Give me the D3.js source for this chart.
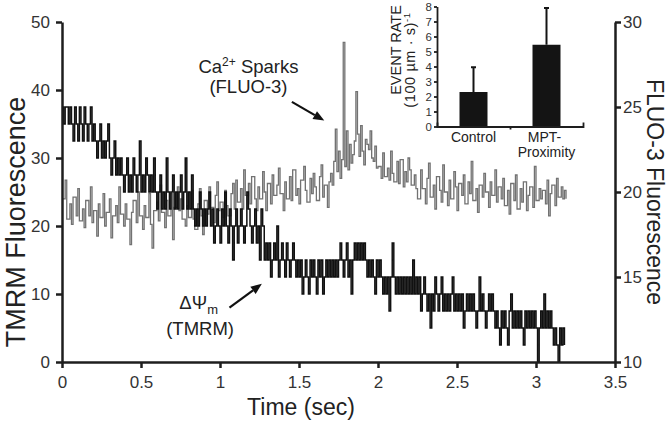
<!DOCTYPE html>
<html><head><meta charset="utf-8">
<script src="https://cdn.jsdelivr.net/npm/d3@7"></script>
<style>
body{margin:0;background:#fff}
text{font-family:"Liberation Sans",Arial,Helvetica,sans-serif}
</style>
</head><body>
<svg id="chart" width="671" height="422"></svg>
<script>
// ---------- data ----------
const sampleInterval = 0.01; // seconds between samples
const tmrmValues = [
  37.5,35,37.5,37.5,35,37.5,35,32.5,37.5,35,
  32.5,37.5,35,32.5,37.5,35,32.5,35,37.5,32.5,
  35,32.5,30,32.5,35,30,32.5,30,32.5,35,
  30,27.5,30,32.5,27.5,30,27.5,30,27.5,25,
  27.5,30,25,27.5,25,30,27.5,25,27.5,32.5,
  25,27.5,25,30,27.5,25,27.5,25,30,25,
  22.5,25,27.5,22.5,25,22.5,30,25,22.5,25,
  27.5,22.5,25,22.5,25,27.5,22.5,25,30,22.5,
  25,22.5,27.5,22.5,20,22.5,20,25,22.5,20,
  22.5,20,22.5,25,20,22.5,17.5,20,22.5,20,
  17.5,22.5,20,25,20,17.5,22.5,20,15,20,
  22.5,17.5,20,22.5,20,17.5,20,25,22.5,20,
  17.5,20,22.5,17.5,20,15,22.5,20,15,17.5,
  15,17.5,12.5,15,17.5,15,20,12.5,15,17.5,
  15,12.5,17.5,15,12.5,15,17.5,15,12.5,15,
  12.5,15,10,12.5,15,12.5,10,15,12.5,15,
  12.5,10,15,12.5,15,10,12.5,15,12.5,15,
  12.5,15,12.5,15,12.5,15,17.5,15,12.5,15,
  17.5,12.5,15,10,15,17.5,15,17.5,15,17.5,
  15,17.5,15,12.5,15,12.5,15,12.5,10,15,
  12.5,15,12.5,10,12.5,10,12.5,7.5,12.5,17.5,
  12.5,10,12.5,10,12.5,10,12.5,10,12.5,10,
  12.5,10,15,10,12.5,10,12.5,7.5,10,12.5,
  10,7.5,10,5,10,7.5,12.5,10,7.5,10,
  12.5,7.5,10,7.5,10,7.5,10,12.5,7.5,10,
  7.5,10,7.5,10,5,7.5,10,7.5,10,7.5,
  10,7.5,5,7.5,12.5,7.5,10,7.5,5,7.5,
  10,7.5,10,7.5,5,7.5,5,2.5,7.5,5,
  7.5,5,2.5,7.5,10,5,7.5,5,7.5,5,
  7.5,5,2.5,7.5,5,7.5,5,7.5,5,7.5,
  5,0,5,7.5,5,10,5,7.5,5,7.5,
  5,2.5,5,2.5,0,5,2.5,5,2.5
];
const fluoValues = [
  19.6,19.6,20.7,18.4,18.4,19.3,18.1,19.7,19.7,18.6,
  20.2,18.3,18.3,19.0,17.9,19.5,19.5,18.6,20.3,18.2,
  18.9,18.9,17.4,19.3,18.5,18.5,19.9,18.0,18.8,18.8,
  19.6,17.3,18.6,18.6,19.2,18.2,20.3,18.7,18.7,18.0,
  19.3,18.4,18.4,16.9,18.8,19.5,19.5,18.2,20.0,18.6,
  18.6,17.8,19.2,18.5,18.5,19.9,18.1,16.7,18.9,18.9,
  19.4,18.3,20.4,18.8,18.8,17.9,19.5,18.6,18.6,19.9,
  17.2,19.1,19.1,20.3,18.9,19.6,18.4,18.4,18.0,19.2,
  18.5,18.5,20.1,18.4,17.8,17.8,19.3,20.2,18.6,17.5,
  19.5,19.5,18.7,20.3,19.1,19.1,18.2,19.8,20.6,18.9,
  19.4,19.4,18.5,20.1,19.2,18.6,18.6,19.9,20.5,19.0,
  20.7,19.4,19.4,20.2,19.0,21.3,19.8,19.8,20.5,19.3,
  20.9,20.9,19.6,18.9,20.3,19.6,19.6,21.2,20.0,18.9,
  20.5,20.5,19.3,21.0,19.8,19.8,20.4,21.4,19.9,19.9,
  18.9,20.6,19.6,19.6,20.9,19.5,21.3,21.3,19.8,20.2,
  19.3,20.7,20.7,21.5,20.1,19.4,19.4,20.8,19.9,21.1,
  20.3,19.5,19.5,20.9,21.6,19.7,20.4,20.4,19.1,20.6,
  21.1,20.4,21.8,23.7,21.2,22.4,20.8,21.9,28.8,21.5,
  23.6,21.3,22.8,21.7,22.2,23.0,25.9,23.4,22.1,23.9,
  22.4,21.6,23.1,22.8,22.5,23.6,22.0,21.8,22.7,21.4,
  21.5,21.5,20.8,22.3,20.9,20.9,21.4,20.7,22.4,21.1,
  20.6,20.6,21.8,20.5,21.9,21.9,20.3,21.2,20.6,22.0,
  21.3,20.4,20.4,21.0,20.2,19.6,19.6,21.3,20.2,20.2,
  19.3,20.8,21.7,19.7,19.7,20.4,19.0,20.9,20.9,20.1,
  19.4,21.6,20.0,20.0,19.2,20.7,19.6,19.6,21.2,20.3,
  18.9,20.5,20.5,19.8,21.0,19.3,19.3,20.6,19.9,21.8,
  19.5,19.5,20.2,18.8,20.4,20.4,19.7,21.1,20.0,20.0,
  19.1,20.6,19.8,19.8,21.3,19.4,20.3,20.3,19.6,20.8,
  19.2,19.2,20.1,18.7,20.5,20.5,19.5,21.0,19.0,19.0,
  20.2,19.4,20.6,20.6,18.9,19.8,20.3,20.3,19.1,21.5,
  19.5,19.5,20.2,19.6,20.1,20.1,19.3,20.7,18.6,19.9,
  20.4,20.4,19.2,20.8,19.7,19.7,20.3,19.6,20.1,19.6
];
const xTicks = [0, 0.5, 1, 1.5, 2, 2.5, 3, 3.5];
const leftTicks = [0, 10, 20, 30, 40, 50];
const rightTicks = [10, 15, 20, 25, 30];
const insetCategories = ["Control", "MPT-Proximity"];
const insetMeans = [2.3, 5.45];
const insetErrorTops = [3.95, 7.9];
const insetTicks = [0, 1, 2, 3, 4, 5, 6, 7, 8];

// ---------- setup ----------
const svg = d3.select("#chart");
const axisColor = "#1e1e1e";
const labelColor = "#333";

const x = d3.scaleLinear().domain([0, 3.5]).range([62, 615]);
const yL = d3.scaleLinear().domain([0, 50]).range([362, 22]);
const yR = d3.scaleLinear().domain([10, 30]).range([362, 22]);

function styleAxis(g, fs, sw) {
  g.select(".domain").attr("stroke", axisColor).attr("stroke-width", sw);
  g.selectAll(".tick line").attr("stroke", axisColor).attr("stroke-width", sw);
  g.selectAll(".tick text").attr("fill", labelColor).style("font-size", fs + "px")
    .style("font-family", '"Liberation Sans",Arial,sans-serif');
}

// ---------- traces ----------
const tmrm = tmrmValues.map((v, i) => ({t: i * sampleInterval, v}));
const fluo = fluoValues.map((v, i) => ({t: i * sampleInterval, v}));

svg.append("path").datum(fluo)
  .attr("fill", "none").attr("stroke", "#727272").attr("stroke-width", 1.3)
  .attr("d", d3.line().curve(d3.curveStepAfter).x(d => x(d.t)).y(d => yR(d.v)));

svg.append("path").datum(tmrm)
  .attr("fill", "none").attr("stroke", "#111").attr("stroke-width", 1.5)
  .attr("d", d3.line().curve(d3.curveStepAfter).x(d => x(d.t)).y(d => yL(d.v)));

// ---------- axes ----------
const gL = svg.append("g").attr("transform", "translate(62,0)")
  .call(d3.axisLeft(yL).tickValues(leftTicks).tickSize(6).tickSizeOuter(0).tickPadding(6));
styleAxis(gL, 17, 2.5);

const gR = svg.append("g").attr("transform", "translate(615,0)")
  .call(d3.axisRight(yR).tickValues(rightTicks).tickSize(6).tickSizeOuter(0).tickPadding(2));
styleAxis(gR, 17, 2.5);

const gB = svg.append("g").attr("transform", "translate(0,362)")
  .call(d3.axisBottom(x).tickValues(xTicks).tickFormat(d => String(d)).tickSize(6).tickSizeOuter(0).tickPadding(8));
styleAxis(gB, 17, 2.5);

// axis titles
svg.append("text").attr("transform", "translate(25,222) rotate(-90)")
  .attr("text-anchor", "middle").attr("fill", "#222").style("font-size", "27px")
  .text("TMRM Fluorescence");
svg.append("text").attr("transform", "translate(647,192) rotate(90)")
  .attr("text-anchor", "middle").attr("fill", "#222").style("font-size", "23px")
  .text("FLUO-3 Fluorescence");
svg.append("text").attr("x", 301).attr("y", 415)
  .attr("text-anchor", "middle").attr("fill", "#222").style("font-size", "23px")
  .text("Time (sec)");

// ---------- annotations ----------
function arrow(x1, y1, x2, y2) {
  const ang = Math.atan2(y2 - y1, x2 - x1), L = 11, W = 4.5;
  const bx = x2 - L * Math.cos(ang), by = y2 - L * Math.sin(ang);
  svg.append("line").attr("x1", x1).attr("y1", y1).attr("x2", bx).attr("y2", by)
    .attr("stroke", "#111").attr("stroke-width", 2.2);
  const p = [[x2, y2],
    [bx + W * Math.sin(ang), by - W * Math.cos(ang)],
    [bx - W * Math.sin(ang), by + W * Math.cos(ang)]];
  svg.append("path").attr("d", "M" + p.join("L") + "Z").attr("fill", "#111");
}
const caLabel = svg.append("text").attr("x", x(1.18)).attr("y", 73)
  .attr("text-anchor", "middle").attr("fill", "#222").style("font-size", "18.5px");
caLabel.append("tspan").text("Ca");
caLabel.append("tspan").attr("dy", -7).style("font-size", "12px").text("2+");
caLabel.append("tspan").attr("dy", 7).text(" Sparks");
svg.append("text").attr("x", x(1.18)).attr("y", 93)
  .attr("text-anchor", "middle").attr("fill", "#222").style("font-size", "18.5px").text("(FLUO-3)");
arrow(x(1.455), yR(25.3), x(1.66), yR(24.2));

const psi = svg.append("text").attr("x", 218).attr("y", 309)
  .attr("text-anchor", "end").attr("fill", "#222").style("font-size", "18.5px");
psi.append("tspan").text("ΔΨ");
psi.append("tspan").attr("dy", 5).style("font-size", "13px").text("m");
svg.append("text").attr("x", 234).attr("y", 335)
  .attr("text-anchor", "end").attr("fill", "#222").style("font-size", "18.5px").text("(TMRM)");
arrow(x(1.06), yL(8.0), x(1.265), yL(11.5));

// ---------- inset bar chart ----------
const yI = d3.scaleLinear().domain([0, 8]).range([126.5, 6.5]);
const xI = d3.scalePoint().domain(insetCategories).range([437, 583]).padding(0.5);
const xIL = d3.scaleLinear().domain([0, 2]).range([437, 583]);
const barW = 28;

const gI = svg.append("g");
gI.selectAll("rect.bar").data(insetCategories).join("rect").attr("class", "bar")
  .attr("x", d => xI(d) - barW / 2).attr("width", barW)
  .attr("y", (d, i) => yI(insetMeans[i])).attr("height", (d, i) => yI(0) - yI(insetMeans[i]))
  .attr("fill", "#141414");
gI.selectAll("line.err").data(insetCategories).join("line").attr("class", "err")
  .attr("x1", d => xI(d)).attr("x2", d => xI(d))
  .attr("y1", (d, i) => yI(insetMeans[i])).attr("y2", (d, i) => yI(insetErrorTops[i]))
  .attr("stroke", "#141414").attr("stroke-width", 2);
gI.selectAll("line.cap").data(insetCategories).join("line").attr("class", "cap")
  .attr("x1", d => xI(d) - 2.5).attr("x2", d => xI(d) + 2.5)
  .attr("y1", (d, i) => yI(insetErrorTops[i])).attr("y2", (d, i) => yI(insetErrorTops[i]))
  .attr("stroke", "#141414").attr("stroke-width", 2);

const gIy = svg.append("g").attr("transform", "translate(437,0)")
  .call(d3.axisLeft(yI).tickValues(insetTicks).tickSize(3).tickSizeOuter(0).tickPadding(2));
styleAxis(gIy, 11.5, 1.8);
const gIx = svg.append("g").attr("transform", "translate(0,126.5)")
  .call(d3.axisBottom(xIL).tickValues([1]).tickFormat("").tickSize(3).tickSizeOuter(-4));
styleAxis(gIx, 11, 1.8);

const catLabels = svg.append("g").attr("fill", "#222").style("font-size", "14px");
catLabels.append("text").attr("x", xI("Control")).attr("y", 142).attr("text-anchor", "middle").text("Control");
const mptText = catLabels.append("text").attr("text-anchor", "middle");
mptText.append("tspan").attr("x", xI("MPT-Proximity") - 2).attr("y", 142).text("MPT-");
mptText.append("tspan").attr("x", xI("MPT-Proximity")).attr("y", 157).text("Proximity");

svg.append("text").attr("transform", "translate(401,50) rotate(-90)")
  .attr("text-anchor", "middle").attr("fill", "#222").style("font-size", "14.5px").text("EVENT RATE");
const unitText = svg.append("text").attr("transform", "translate(414.5,60) rotate(-90)")
  .attr("text-anchor", "middle").attr("fill", "#222").style("font-size", "14.5px")
  .style("letter-spacing", "0.6px");
unitText.append("tspan").text("(100 µm · s)");
unitText.append("tspan").attr("dy", -5).style("font-size", "9.5px").text("-1");
</script>
</body></html>
